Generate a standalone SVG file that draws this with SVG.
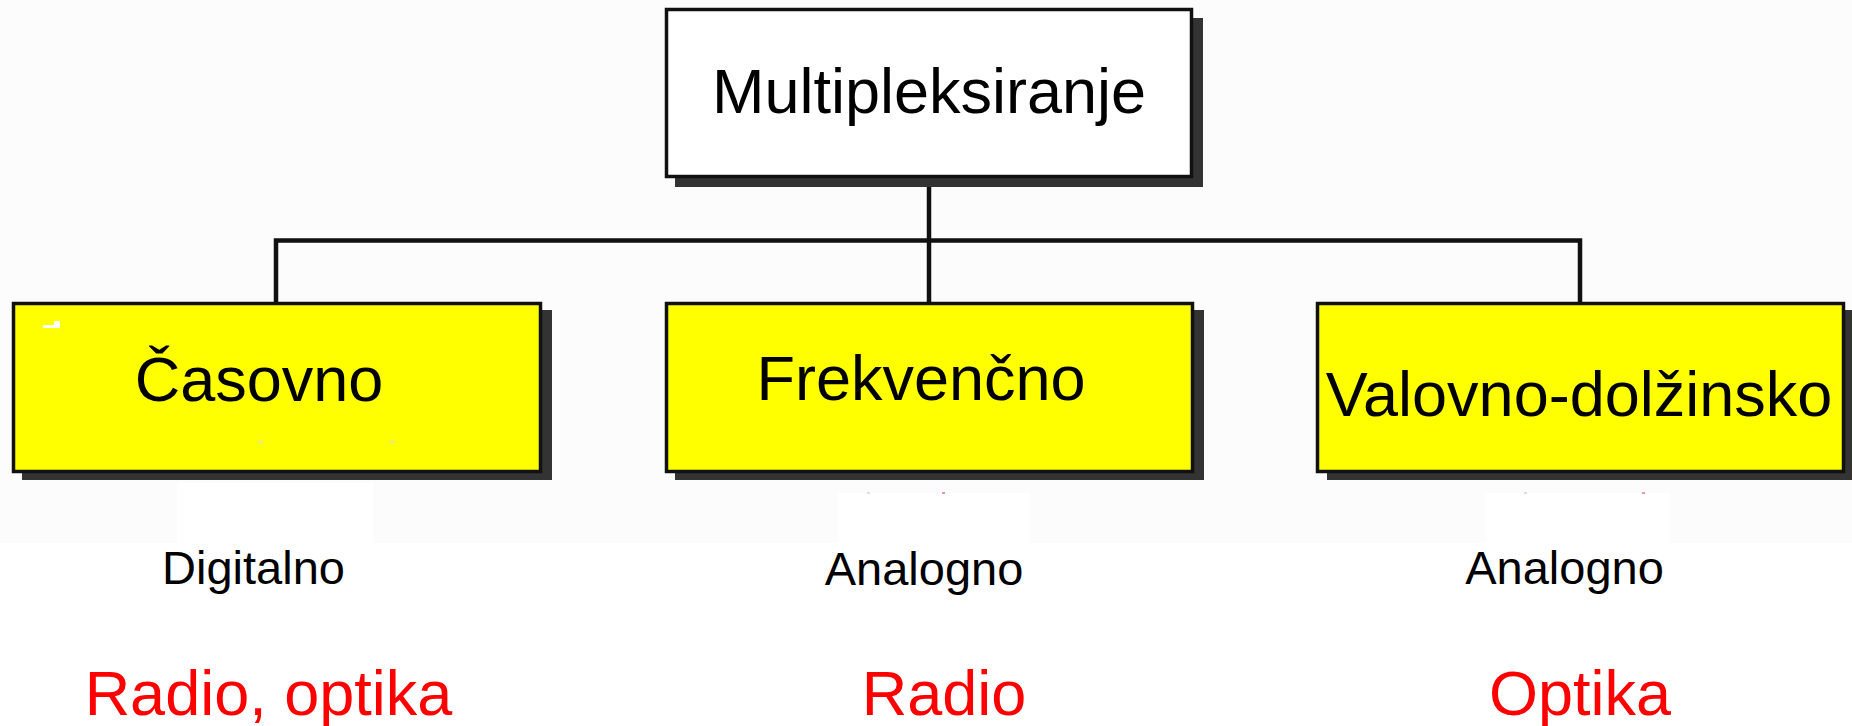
<svg xmlns="http://www.w3.org/2000/svg" width="1852" height="726" viewBox="0 0 1852 726">
  <style>
    .shadow { fill: #333333; }
    .box { stroke: #111111; stroke-width: 3.5; }
    .root { fill: #ffffff; }
    .leaf { fill: #ffff00; }
    .wire { fill: none; stroke: #111111; stroke-width: 4.5; stroke-linejoin: miter; }
    .label { font-family: "Liberation Sans", Arial, sans-serif; font-size: 63px; fill: #000000; text-anchor: middle; }
    .kind { font-family: "Liberation Sans", Arial, sans-serif; font-size: 47px; fill: #000000; text-anchor: middle; }
    .use { font-family: "Liberation Sans", Arial, sans-serif; font-size: 63px; fill: #ff0000; text-anchor: middle; }
  </style>

  <!-- page background -->
  <rect x="0" y="0" width="1852" height="726" fill="#ffffff"/>
  <rect x="0" y="0" width="1852" height="543" fill="#fcfcfc"/>
  <rect x="177" y="483" width="196" height="60" fill="#ffffff"/>
  <rect x="838" y="493" width="192" height="50" fill="#ffffff"/>
  <rect x="1485" y="493" width="185" height="50" fill="#ffffff"/>

  <!-- connectors -->
  <g id="connectors">
    <path class="wire" d="M929 178 V240.5"/>
    <path class="wire" d="M276 302 V240.5 H1580 V302"/>
    <path class="wire" d="M929 240.5 V302"/>
  </g>

  <!-- root node -->
  <g id="node-multipleksiranje">
    <rect class="shadow" x="675" y="18" width="528" height="169"/>
    <rect class="box root" x="666.5" y="9.5" width="525" height="167"/>
    <text class="label" x="929" y="113">Multipleksiranje</text>
  </g>

  <!-- child nodes -->
  <g id="node-casovno">
    <rect class="shadow" x="22" y="310" width="530" height="170"/>
    <rect class="box leaf" x="13.5" y="303.5" width="527" height="168"/>
    <rect x="54" y="321" width="6" height="5" fill="#ffffff"/>
    <rect x="43" y="325" width="17" height="3" fill="#ffffff"/>
    <rect x="258" y="441" width="5" height="2" fill="#e6e6a0"/>
    <rect x="390" y="441" width="5" height="2" fill="#e6e6a0"/>
    <text class="label" x="259" y="401">Časovno</text>
  </g>

  <g id="node-frekvencno">
    <rect class="shadow" x="675" y="310" width="529" height="170"/>
    <rect class="box leaf" x="666.5" y="303.5" width="526" height="168"/>
    <text class="label" x="921" y="400">Frekvenčno</text>
  </g>

  <g id="node-valovno-dolzinsko">
    <rect class="shadow" x="1327" y="310" width="529" height="170"/>
    <rect class="box leaf" x="1317.5" y="303.5" width="526" height="168"/>
    <text class="label" x="1579" y="416">Valovno-dolžinsko</text>
  </g>

  <!-- small stray marks under the boxes -->
  <rect x="942" y="492" width="3" height="2" fill="#f090c0"/>
  <rect x="867" y="492" width="3" height="2" fill="#f8d0e4"/>
  <rect x="1642" y="492" width="3" height="2" fill="#f090c0"/>
  <rect x="1524" y="492" width="3" height="2" fill="#f8d0e4"/>

  <!-- signal type -->
  <g id="signal-types">
    <text class="kind" x="253.5" y="584">Digitalno</text>
    <text class="kind" x="924" y="585">Analogno</text>
    <text class="kind" x="1564.5" y="584">Analogno</text>
  </g>

  <!-- typical use -->
  <g id="applications">
    <text class="use" x="268.5" y="715">Radio, optika</text>
    <text class="use" x="944" y="715">Radio</text>
    <text class="use" x="1580" y="715">Optika</text>
  </g>
</svg>
